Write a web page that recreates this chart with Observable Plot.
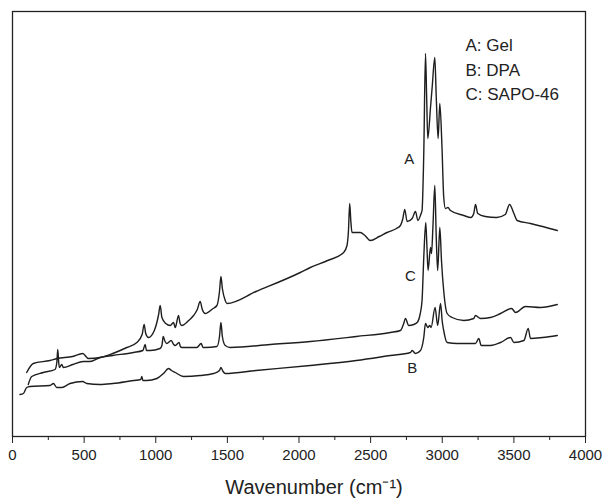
<!DOCTYPE html>
<html>
<head>
<meta charset="utf-8">
<script src="https://cdn.jsdelivr.net/npm/d3@7"></script>
<script src="https://cdn.jsdelivr.net/npm/@observablehq/plot@0.6"></script>
<style>
  html, body { margin: 0; padding: 0; background: #fff; }
</style>
</head>
<body>
<div id="chart"></div>
<script>
// Curve A: Gel
const wnA = [99,145,262,310,420,490,530,611,700,798,868,905,919,930,949,990,1020,1031,1043,1070,1101,1124,1136,1159,1170,1182,1230,1264,1290,1310,1325,1345,1400,1427,1445,1455,1465,1485,1497,1700,2009,2079,2200,2312,2335,2345,2354,2362,2370,2428,2460,2498,2560,2615,2680,2708,2725,2738,2755,2790,2813,2830,2850,2859,2871,2883,2891,2899,2918,2930,2948,2958,2971,2983,2998,3010,3022,3040,3057,3150,3200,3220,3232,3248,3300,3380,3440,3470,3500,3523,3616,3700,3803];
const intA = [64,73,76,78,80,83,78,79,83,89,94,102,112,103,99,106,122,131,119,113,111,114,109,121,113,111,116,121,127,135,127,123,128,131,145,160,148,136,133,145,164,169,176,184,191,205,233,215,204,204,201,196,200,204,208,211,218,227,215,218,225,216,222,226,283,383,340,298,329,350,379,340,298,333,290,240,228,229,226,221,219,223,232,223,220,219,222,232,223,216,213,210,206];

// Curve C: SAPO-46
const wnC = [110,134,215,297,310,316,322,327,344,355,420,495,540,611,700,844,910,926,935,961,1030,1043,1052,1065,1077,1108,1125,1136,1163,1172,1182,1287,1317,1330,1345,1427,1445,1455,1465,1485,1520,1800,2079,2400,2638,2708,2731,2743,2766,2800,2825,2845,2859,2871,2885,2893,2901,2918,2925,2935,2948,2958,2968,2983,2995,3010,3034,3069,3150,3220,3232,3267,3337,3407,3484,3512,3581,3686,3803];
const intC = [52,60,64,67,75,87,75,69,72,69,72,75,75,79,81,84,86,92,86,86,88,91,100,95,93,96,92,91,94,90,89,89,93,89,89,90,100,114,100,91,89,92,95,100,104,106,113,118,111,112,114,122,136,179,214,190,166,189,183,210,251,200,166,209,175,146,123,119,116,118,121,118,119,123,128,124,130,129,132];

// Curve B: DPA
const wnB = [52,76,99,122,262,286,309,344,402,490,518,611,700,844,895,903,910,937,1008,1054,1089,1110,1136,1194,1310,1403,1445,1455,1470,1485,1700,2079,2400,2638,2778,2790,2813,2848,2871,2883,2899,2913,2922,2950,2968,2988,3000,3010,3034,3104,3232,3255,3272,3337,3407,3477,3500,3570,3600,3616,3700,3803];
const intB = [42,43,49,50,51,53,49,49,53,55,53,52,53,56,57,60,56,56,58,63,68,66,64,60,61,63,66,69,65,63,66,71,76,81,84,86,83,86,99,113,109,111,109,129,111,133,115,106,94,93,93,98,91,91,94,99,94,96,108,98,99,101];

// Tick labels / text
const majorTicks = [0,500,1000,1500,2000,2500,3000,3500,4000];
const minorTicks = [250,750,1250,1750,2250,2750,3250,3750];
const curveLabels = ["A","C","B"];
const curveLabelX = [2769,2778,2790];
const curveLabelY = [277,160,68];
const legendLines = ["A: Gel","B: DPA","C: SAPO-46"];
const xTitle = "Wavenumber (cm\u207B\u00B9)";

const rows = [
  ...wnA.map((x,i)=>({x, y:intA[i], s:"A"})),
  ...wnC.map((x,i)=>({x, y:intC[i], s:"C"})),
  ...wnB.map((x,i)=>({x, y:intB[i], s:"B"}))
];
const labelRows = curveLabels.map((t,i)=>({t, x:curveLabelX[i], y:curveLabelY[i]}));

const chart = Plot.plot({
  width: 610,
  height: 498,
  marginLeft: 12,
  marginRight: 25,
  marginTop: 11,
  marginBottom: 62,
  x: {domain: [0, 4000]},
  y: {domain: [0, 425], axis: null},
  style: {fontFamily: "'Liberation Sans', Arial, sans-serif", color: "#222", background: "#fff"},
  marks: [
    Plot.line(rows, {x: "x", y: "y", z: "s", stroke: "#1e1e1e", strokeWidth: 1.4, curve: "monotone-x"}),
    Plot.frame({stroke: "#222", strokeWidth: 1.3}),
    Plot.axisX({ticks: minorTicks, tickSize: 4, tickFormat: () => "", label: null, stroke: "#222"}),
    Plot.axisX({ticks: majorTicks, tickSize: 7, tickPadding: 6, tickFormat: d => String(d), fontSize: 15, label: null, stroke: "#222"}),
    Plot.text(labelRows, {x: "x", y: "y", text: "t", fontSize: 15, fill: "#222"}),
    Plot.text([legendLines.join("\n")], {frameAnchor: "top-right", textAnchor: "start", lineAnchor: "top", dx: -120, dy: 22, fontSize: 17, lineHeight: 1.45, fill: "#222"}),
    Plot.text([xTitle], {frameAnchor: "bottom", lineAnchor: "bottom", dy: 57, dx: 15, fontSize: 20, fill: "#222"})
  ]
});
document.getElementById("chart").appendChild(chart);
</script>
</body>
</html>
